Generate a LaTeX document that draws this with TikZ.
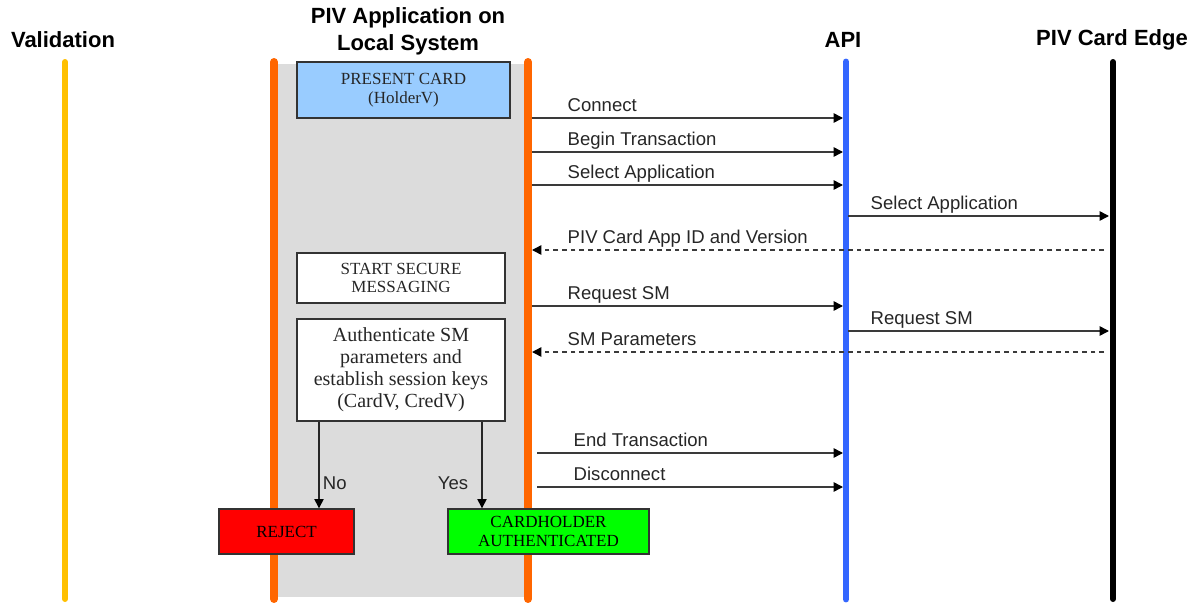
\documentclass[tikz,border=0pt]{standalone}
\usepackage{fontspec}
\setmainfont{Liberation Serif}
\setsansfont{Liberation Sans}
\usetikzlibrary{arrows.meta}
\definecolor{valcol}{HTML}{FFC000}
\definecolor{appcol}{HTML}{FF6600}
\definecolor{apicol}{HTML}{3366FF}
\definecolor{bandcol}{HTML}{DCDCDC}
\definecolor{bluebox}{HTML}{99CCFF}
\definecolor{redbox}{HTML}{FF0000}
\definecolor{greenbox}{HTML}{00FF00}
\definecolor{msgcol}{HTML}{3A3A3A}
\tikzset{
  header/.style={font=\sffamily\bfseries\fontsize{16.5pt}{20pt}\selectfont, align=center, text=black},
  lifeline/.style={line width=#1, line cap=round},
  tip/.style={-{Triangle[length=7pt,width=7pt,color=black]}},
  msg/.style={draw=msgcol, line width=1.1pt, tip},
  reply/.style={msg, dash pattern=on 3.5pt off 3pt},
  lbl/.style={font=\sffamily\fontsize{13.9pt}{16pt}\selectfont, text=black!85, inner sep=0pt, anchor=base west},
  stepbox/.style={draw=black!80, line width=1pt, align=center, inner sep=2pt,
    font=\fontsize{12.75pt}{14pt}\selectfont, text=black!85},
  flow/.style={draw=black!85, line width=0.9pt, tip},
}
\begin{document}
\begin{tikzpicture}[x=0.75pt,y=-0.75pt]
\useasboundingbox (0,0) rectangle (1197,603);
\fill[white] (0,0) rectangle (1197,603);

% headers
\node[header] (hval) at (63,40) {Validation};
\node[header] (happ) at (408,31.5) {PIV Application on\\Local System};
\node[header] (hapi) at (843,40) {API};
\node[header] (hcard) at (1112,40) {PIV Card Edge};

% lifeline ends
\coordinate (valT) at (65,62);   \coordinate (valB) at (65,599);
\coordinate (appLT) at (274,62); \coordinate (appLB) at (274,599);
\coordinate (appRT) at (528,62); \coordinate (appRB) at (528,599);
\coordinate (apiT) at (846,62);  \coordinate (apiB) at (846,599);
\coordinate (cardT) at (1113,62);\coordinate (cardB) at (1113,599);

% application band
\fill[bandcol] (278,64) rectangle (524,597);

\draw[lifeline=4.5pt, valcol] (valT) -- (valB);
\draw[lifeline=6pt, appcol] (appLT) -- (appLB);
\draw[lifeline=6pt, appcol] (appRT) -- (appRB);
\draw[lifeline=5.2pt, apicol] (apiT) -- (apiB);
\draw[lifeline=4.5pt, black] (cardT) -- (cardB);

% message endpoints on the lifelines
\coordinate (appE) at (532,0);
\coordinate (appE2) at (537,0);
\coordinate (apiW) at (843,0);
\coordinate (apiE) at (848,0);
\coordinate (cardW) at (1109,0);
\coordinate (cardW2) at (1104,0);

% message heights
\coordinate (m1) at (0,118);
\coordinate (m2) at (0,152);
\coordinate (m3) at (0,185);
\coordinate (m4) at (0,216);
\coordinate (m5) at (0,250);
\coordinate (m6) at (0,306);
\coordinate (m7) at (0,331);
\coordinate (m8) at (0,352);
\coordinate (m9) at (0,453);
\coordinate (m10) at (0,487);

\draw[msg] (appE |- m1) -- (apiW |- m1)
  node[lbl, pos=0, xshift=26.25pt, yshift=5.25pt] {Connect};
\draw[msg] (appE |- m2) -- (apiW |- m2)
  node[lbl, pos=0, xshift=26.25pt, yshift=5.25pt] {Begin Transaction};
\draw[msg] (appE |- m3) -- (apiW |- m3)
  node[lbl, pos=0, xshift=26.25pt, yshift=5.25pt] {Select Application};
\draw[msg] (apiE |- m4) -- (cardW |- m4)
  node[lbl, pos=0, xshift=16.5pt, yshift=5.25pt] {Select Application};
\draw[reply] (cardW2 |- m5) -- (appE |- m5)
  node[lbl, pos=1, xshift=26.25pt, yshift=5.25pt] {PIV Card App ID and Version};
\draw[msg] (appE |- m6) -- (apiW |- m6)
  node[lbl, pos=0, xshift=26.25pt, yshift=5.25pt] {Request SM};
\draw[msg] (apiE |- m7) -- (cardW |- m7)
  node[lbl, pos=0, xshift=16.5pt, yshift=5.25pt] {Request SM};
\draw[reply] (cardW2 |- m8) -- (appE |- m8)
  node[lbl, pos=1, xshift=26.25pt, yshift=5.25pt] {SM Parameters};
\draw[msg] (appE2 |- m9) -- (apiW |- m9)
  node[lbl, pos=0, xshift=27pt, yshift=5.25pt] {End Transaction};
\draw[msg] (appE2 |- m10) -- (apiW |- m10)
  node[lbl, pos=0, xshift=27pt, yshift=5.25pt] {Disconnect};

% process boxes
\node[stepbox, fill=bluebox, minimum width=159.75pt, minimum height=42pt] (present)
  at (403.5,90) {PRESENT CARD\\(HolderV)};
\node[stepbox, fill=white, minimum width=156pt, minimum height=37.5pt] (startsm)
  at (401,278) {START SECURE\\MESSAGING};
\node[stepbox, fill=white, minimum width=156pt, minimum height=76.5pt,
  font=\fontsize{15pt}{16.5pt}\selectfont] (auth)
  at (401,370) {Authenticate SM\\parameters and\\establish session keys\\(CardV, CredV)};
\node[stepbox, fill=redbox, minimum width=101.25pt, minimum height=33.75pt,
  text=black] (reject) at (286.5,531.5) {REJECT};
\node[stepbox, fill=greenbox, minimum width=150.75pt, minimum height=33.75pt,
  text=black] (authd) at (548.5,531.5) {CARDHOLDER\\AUTHENTICATED};

% decision branches
\coordinate (nox) at (319,0);
\coordinate (yesx) at (482,0);
\draw[flow] (auth.south -| nox) -- (reject.north -| nox)
  node[lbl, pos=0.78, xshift=2.5pt, anchor=base west] {No};
\draw[flow] (auth.south -| yesx) -- (authd.north -| yesx)
  node[lbl, pos=0.78, xshift=-10pt, anchor=base east] {Yes};
\end{tikzpicture}
\end{document}
